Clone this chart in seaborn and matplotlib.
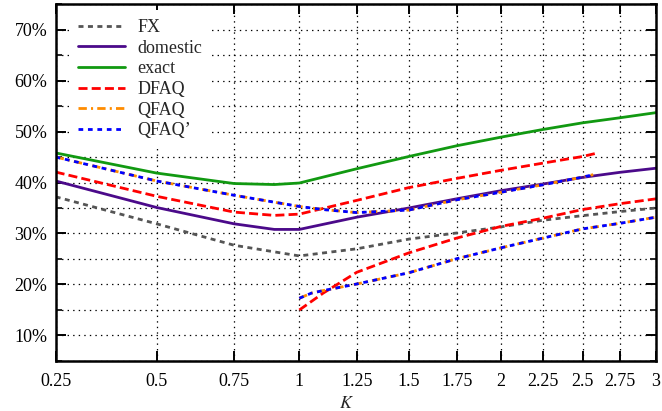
import numpy as np
import pandas as pd
import seaborn as sns
import matplotlib
matplotlib.use("Agg")
import matplotlib.pyplot as plt
from matplotlib.ticker import FixedLocator, MultipleLocator, NullLocator, PercentFormatter, FormatStrFormatter

# ---- data ----
K_full = [0.25, 0.5, 0.75, 0.9, 1.0, 1.25, 1.5, 1.75, 2.0, 2.25, 2.5, 2.75, 3.0]
fx = [0.372, 0.319, 0.277, 0.264, 0.256, 0.270, 0.289, 0.301, 0.313, 0.326, 0.335, 0.343, 0.350]
domestic = [0.403, 0.351, 0.319, 0.308, 0.308, 0.332, 0.350, 0.368, 0.384, 0.397, 0.410, 0.420, 0.428]
exact = [0.458, 0.4185, 0.398, 0.396, 0.399, 0.427, 0.451, 0.472, 0.489, 0.504, 0.517, 0.527, 0.537]

K_dfaq_up = [0.25, 0.5, 0.75, 0.9, 1.0, 1.25, 1.5, 1.75, 2.0, 2.25, 2.5, 2.6]
dfaq_up = [0.4205, 0.373, 0.342, 0.3355, 0.338, 0.365, 0.390, 0.408, 0.424, 0.438, 0.451, 0.458]
K_dfaq_lo = [1.0, 1.1, 1.25, 1.5, 1.75, 2.0, 2.25, 2.5, 2.75, 3.0]
dfaq_lo = [0.150, 0.183, 0.224, 0.262, 0.291, 0.314, 0.330, 0.347, 0.3585, 0.368]

K_qfaq_up = [0.25, 0.5, 0.75, 1.0, 1.1, 1.25, 1.5, 1.75, 2.0, 2.25, 2.5, 2.57]
qfaq_up = [0.450, 0.403, 0.375, 0.353, 0.347, 0.341, 0.346, 0.366, 0.381, 0.3955, 0.4105, 0.4154]
K_qfaq_lo = [1.0, 1.05, 1.1, 1.25, 1.5, 1.75, 2.0, 2.25, 2.5, 2.75, 3.0]
qfaq_lo = [0.173, 0.183, 0.188, 0.201, 0.223, 0.2505, 0.272, 0.291, 0.309, 0.320, 0.332]

x_ticks = [0.25, 0.5, 0.75, 1, 1.25, 1.5, 1.75, 2, 2.25, 2.5, 2.75, 3]

sns.set_theme(style="ticks")
plt.rcParams['font.family'] = ['Liberation Serif', 'DejaVu Serif']
plt.rcParams['mathtext.fontset'] = 'stix'
plt.rcParams['lines.scale_dashes'] = False

fig = plt.figure(figsize=(6.62, 4.11), dpi=100)
ax = fig.add_axes([0.0841, 0.1217, 0.9069, 0.8685])

lw = 2.0
styles = {
    'FX': dict(color='#555555', linestyle=(0, (3.6, 3.2))),
    'domestic': dict(color='#4b0a8a', linestyle='-'),
    'exact': dict(color='#119911', linestyle='-'),
    'DFAQ': dict(color='#ff0000', linestyle=(0, (6.5, 3.0))),
    'QFAQ': dict(color='#ff8c00', linestyle=(0, (6.0, 3.0, 1.5, 3.0))),
    "QFAQ'": dict(color='#0000ff', linestyle=(0, (3.4, 3.4))),
}

sns.lineplot(x=K_full, y=fx, ax=ax, lw=lw, label='FX', **styles['FX'])
sns.lineplot(x=K_full, y=domestic, ax=ax, lw=lw, label='domestic', **styles['domestic'])
sns.lineplot(x=K_full, y=exact, ax=ax, lw=lw, label='exact', **styles['exact'])
sns.lineplot(x=K_dfaq_up, y=dfaq_up, ax=ax, lw=lw, label='DFAQ', **styles['DFAQ'])
sns.lineplot(x=K_qfaq_up, y=qfaq_up, ax=ax, lw=lw, label='QFAQ', **styles['QFAQ'])
sns.lineplot(x=K_qfaq_up, y=qfaq_up, ax=ax, lw=lw, label="QFAQ’", **styles["QFAQ'"])
sns.lineplot(x=K_dfaq_lo, y=dfaq_lo, ax=ax, lw=lw, label='_nolegend_', **styles['DFAQ'])
sns.lineplot(x=K_qfaq_lo, y=qfaq_lo, ax=ax, lw=lw, label='_nolegend_', **styles['QFAQ'])
sns.lineplot(x=K_qfaq_lo, y=qfaq_lo, ax=ax, lw=lw, label='_nolegend_', **styles["QFAQ'"])

# sqrt-like x axis
ax.set_xscale('function', functions=(lambda v: np.sqrt(np.clip(v, 0, None)), np.square))
ax.set_xlim(0.25, 3)
ax.set_ylim(0.05, 0.75)
ax.xaxis.set_major_locator(FixedLocator(x_ticks))
ax.xaxis.set_major_formatter(FormatStrFormatter('%g'))
ax.xaxis.set_minor_locator(NullLocator())
ax.yaxis.set_major_locator(MultipleLocator(0.1))
ax.yaxis.set_minor_locator(MultipleLocator(0.05))
ax.yaxis.set_major_formatter(PercentFormatter(1.0, decimals=0))

ax.grid(True, which='major', axis='x', color='black', linestyle=(0, (1, 3)), lw=0.9)
ax.grid(True, which='both', axis='y', color='black', linestyle=(0, (1, 3)), lw=0.9)

ax.tick_params(axis='both', which='major', direction='in', length=7, width=1.4,
               top=True, right=True, labelsize=13, pad=6, colors='black')
ax.tick_params(axis='x', which='major', pad=9)
ax.tick_params(axis='y', which='minor', direction='in', length=4, width=1.4, right=True)
for s in ax.spines.values():
    s.set_linewidth(1.8)
    s.set_color('black')

ax.set_xlabel('$K$', fontsize=13, labelpad=4)
ax.xaxis.set_label_coords(0.485, -0.095)
ax.set_ylabel('')

# legend box is opaque white (hides the grid) but has no frame line
leg = ax.legend(loc='upper left', bbox_to_anchor=(0.022, 0.983), frameon=True,
                facecolor='white', edgecolor='none', framealpha=1.0, fancybox=False,
                fontsize=13, handlelength=2.6, handletextpad=0.7, labelspacing=0.2,
                borderpad=0.5, borderaxespad=0)

fig.savefig('out.png', dpi=100)
